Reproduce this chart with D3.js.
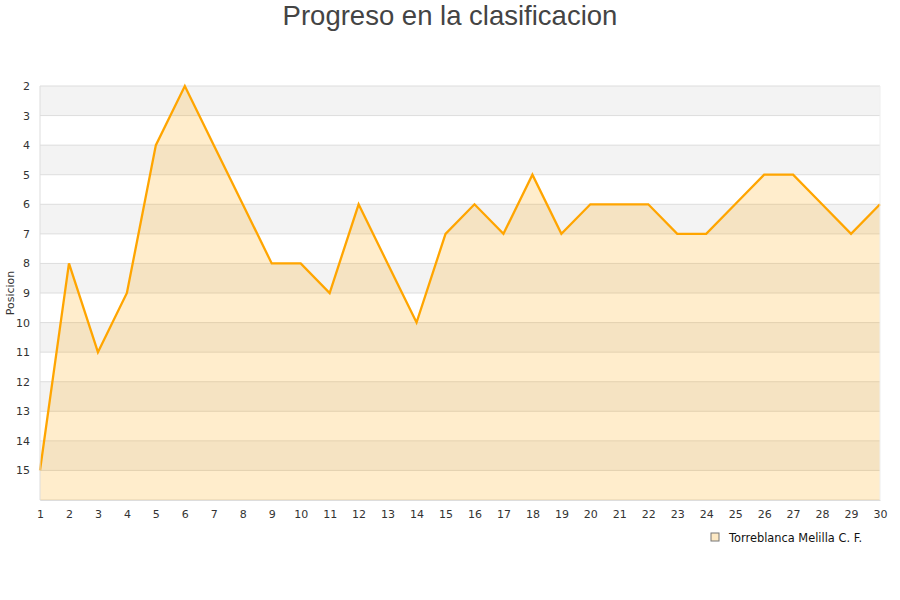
<!DOCTYPE html>
<html>
<head>
<meta charset="utf-8">
<script src="https://cdn.jsdelivr.net/npm/d3@7"></script>
<style>
  body { margin: 0; background: #fff; }
  svg { display: block; }
</style>
</head>
<body>
<div id="chart"></div>
<script>
// Jornadas and positions
const jornadas = d3.range(1, 31);
const posiciones = [15, 8, 11, 9, 4, 2, 4, 6, 8, 8, 9, 6, 8, 10, 7, 6, 7, 5, 7, 6, 6, 6, 7, 7, 6, 5, 5, 6, 7, 6];
const yTicks = d3.range(2, 16);
const teamName = "Torreblanca Melilla C. F.";

const width = 900, height = 600;
const margin = { top: 86, right: 20, bottom: 100, left: 40 };
const plotW = width - margin.left - margin.right;
const plotH = height - margin.top - margin.bottom;

const svg = d3.select("#chart")
    .append("svg")
    .attr("width", width)
    .attr("height", height);

const g = svg.append("g")
    .attr("transform", `translate(${margin.left}, ${margin.top})`);

const x = d3.scaleLinear().domain([1, 30]).range([0, plotW]);
const y = d3.scaleLinear().domain([2, 16]).range([0, plotH]);

// Alternating background bands
g.selectAll(".band")
    .data(d3.range(2, 16))
    .enter()
    .append("rect")
    .attr("x", 0)
    .attr("y", d => y(d))
    .attr("width", plotW)
    .attr("height", d => y(d + 1) - y(d))
    .attr("fill", d => (d % 2 === 0 ? "#f3f3f3" : "#ffffff"));

// Grid lines
g.selectAll(".grid")
    .data(yTicks.concat([16]))
    .enter()
    .append("line")
    .attr("x1", 0)
    .attr("x2", plotW)
    .attr("y1", d => y(d))
    .attr("y2", d => y(d))
    .attr("stroke", "#dddddd")
    .attr("stroke-width", 1);

// Area + line
const data = jornadas.map((j, i) => ({ j, p: posiciones[i] }));

g.append("path")
    .datum(data)
    .attr("fill", "orange")
    .attr("fill-opacity", 0.2)
    .attr("d", d3.area().x(d => x(d.j)).y0(plotH).y1(d => y(d.p)));

g.append("path")
    .datum(data)
    .attr("fill", "none")
    .attr("stroke", "#ffa500")
    .attr("stroke-width", 2.3)
    .attr("stroke-linejoin", "miter")
    .attr("d", d3.line().x(d => x(d.j)).y(d => y(d.p)));

// Axis frame (left & right edges)
g.append("line")
    .attr("x1", 0).attr("x2", 0).attr("y1", 0).attr("y2", plotH)
    .attr("stroke", "#dddddd");
g.append("line")
    .attr("x1", plotW).attr("x2", plotW).attr("y1", 0).attr("y2", plotH)
    .attr("stroke", "#eeeeee");

// Y axis labels
const yAxis = g.append("g")
    .call(d3.axisLeft(y).tickValues(yTicks).tickSize(0).tickPadding(10).tickFormat(d3.format("d")));
yAxis.select(".domain").remove();
yAxis.selectAll("text")
    .attr("fill", "#333")
    .style("font-family", "DejaVu Sans")
    .style("font-size", "11px");

// X axis labels
const xAxis = g.append("g")
    .attr("transform", `translate(0, ${plotH})`)
    .call(d3.axisBottom(x).tickValues(jornadas).tickSize(0).tickPadding(10).tickFormat(d3.format("d")));
xAxis.select(".domain").attr("stroke", "#dddddd");
xAxis.selectAll("text")
    .attr("fill", "#333")
    .style("font-family", "DejaVu Sans")
    .style("font-size", "11px");

// Y axis title
svg.append("text")
    .attr("transform", `translate(14, ${margin.top + y(9)}) rotate(-90)`)
    .attr("text-anchor", "middle")
    .style("font-family", "DejaVu Sans")
    .style("font-size", "11px")
    .attr("fill", "#333")
    .text("Posicion");

// Title
svg.append("text")
    .attr("x", width / 2)
    .attr("y", 25)
    .attr("text-anchor", "middle")
    .style("font-family", "Liberation Sans, Arial, sans-serif")
    .style("font-size", "27.5px")
    .attr("fill", "#444")
    .text("Progreso en la clasificacion");

// Legend
const legend = svg.append("g").attr("transform", "translate(711, 533)");
legend.append("rect")
    .attr("width", 8).attr("height", 8)
    .attr("fill", "#fde9c4")
    .attr("stroke", "#777")
    .attr("stroke-width", 1);
legend.append("text")
    .attr("x", 18)
    .attr("y", 8.5)
    .style("font-family", "DejaVu Sans")
    .style("font-size", "11.4px")
    .attr("fill", "#111")
    .text(teamName);
</script>
</body>
</html>
